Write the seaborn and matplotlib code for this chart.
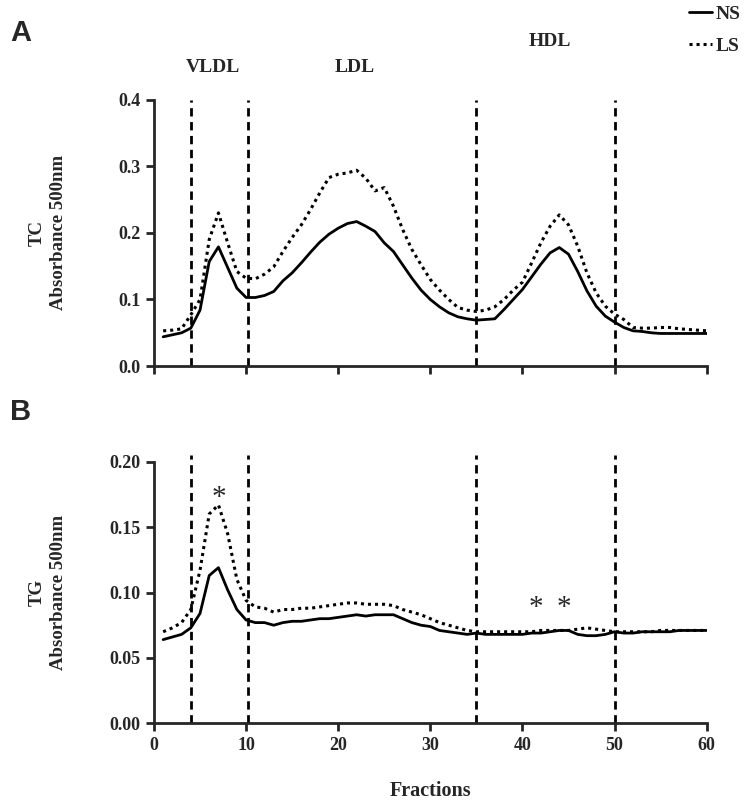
import numpy as np
import pandas as pd
import matplotlib
matplotlib.use('Agg')
import matplotlib.pyplot as plt
import seaborn as sns
from matplotlib.lines import Line2D

fractions = list(range(1, 61))

tc_ns = [0.044, 0.047, 0.050, 0.057, 0.084, 0.157, 0.179, 0.148, 0.117, 0.103,
         0.103, 0.106, 0.112, 0.128, 0.140, 0.155, 0.171, 0.186, 0.198, 0.207,
         0.214, 0.217, 0.210, 0.202, 0.185, 0.172, 0.152, 0.132, 0.114, 0.100,
         0.089, 0.080, 0.074, 0.071, 0.069, 0.070, 0.071, 0.085, 0.100, 0.115,
         0.134, 0.153, 0.170, 0.178, 0.168, 0.142, 0.113, 0.090, 0.075, 0.066,
         0.058, 0.053, 0.052, 0.050, 0.049, 0.049, 0.049, 0.049, 0.049, 0.049]
tc_ls = [0.053, 0.054, 0.056, 0.077, 0.100, 0.190, 0.230, 0.185, 0.142, 0.132,
         0.131, 0.138, 0.149, 0.172, 0.193, 0.212, 0.235, 0.260, 0.283, 0.288,
         0.290, 0.294, 0.282, 0.263, 0.268, 0.240, 0.205, 0.175, 0.152, 0.130,
         0.114, 0.100, 0.088, 0.084, 0.082, 0.084, 0.089, 0.100, 0.114, 0.126,
         0.155, 0.185, 0.210, 0.227, 0.212, 0.180, 0.140, 0.110, 0.090, 0.078,
         0.070, 0.058, 0.057, 0.057, 0.058, 0.058, 0.056, 0.055, 0.054, 0.053]
tg_ns = [0.064, 0.066, 0.068, 0.073, 0.084, 0.113, 0.119, 0.102, 0.087, 0.079,
         0.077, 0.077, 0.075, 0.077, 0.078, 0.078, 0.079, 0.080, 0.080, 0.081,
         0.082, 0.083, 0.082, 0.083, 0.083, 0.083, 0.080, 0.077, 0.075, 0.074,
         0.071, 0.070, 0.069, 0.068, 0.069, 0.068, 0.068, 0.068, 0.068, 0.068,
         0.069, 0.069, 0.070, 0.071, 0.071, 0.068, 0.067, 0.067, 0.068, 0.070,
         0.069, 0.069, 0.070, 0.070, 0.070, 0.070, 0.071, 0.071, 0.071, 0.071]
tg_ls = [0.070, 0.073, 0.077, 0.087, 0.117, 0.160, 0.167, 0.145, 0.110, 0.094,
         0.089, 0.088, 0.085, 0.087, 0.087, 0.088, 0.088, 0.089, 0.090, 0.091,
         0.092, 0.092, 0.091, 0.091, 0.091, 0.090, 0.087, 0.085, 0.083, 0.080,
         0.077, 0.075, 0.073, 0.071, 0.070, 0.070, 0.070, 0.070, 0.070, 0.070,
         0.070, 0.071, 0.071, 0.071, 0.071, 0.072, 0.073, 0.072, 0.071, 0.070,
         0.070, 0.070, 0.070, 0.070, 0.071, 0.071, 0.071, 0.071, 0.071, 0.071]

boundaries = [4, 10.2, 35, 50]
class_labels = ['VLDL', 'LDL', 'HDL']
# (fraction, value) of the significance stars in panel B
star_x = [7, 41.5, 44.5]
star_y = [0.162, 0.078, 0.078]

sns.set_style('ticks')
plt.rcParams['font.family'] = ['Liberation Serif', 'DejaVu Serif']
plt.rcParams['font.weight'] = 'bold'

fig = plt.figure(figsize=(7.51, 8.10), dpi=100)
axA = fig.add_axes([0.205, 0.548, 0.736, 0.329])
axB = fig.add_axes([0.205, 0.107, 0.736, 0.323])

dotted = (0, (1, 1.3))

def draw_panel(ax, ns, ls, ymax, step, fmt, ylabel, line_top):
    sns.lineplot(x=fractions, y=ns, ax=ax, color='black', lw=2.0, linestyle='-')
    sns.lineplot(x=fractions, y=ls, ax=ax, color='black', lw=2.2, linestyle=dotted)
    for b in boundaries:
        ax.axvline(b, ymin=0, ymax=line_top, color='black', lw=2.0,
                   linestyle=(0, (3, 2)), clip_on=False)
    ax.set_xlim(0, 60)
    ax.set_ylim(0, ymax)
    ax.set_xticks(range(0, 61, 10))
    ax.set_yticks(np.arange(0, ymax + step / 2, step))
    ax.yaxis.set_major_formatter(plt.FormatStrFormatter(fmt))
    sns.despine(ax=ax)
    for s in ['left', 'bottom']:
        ax.spines[s].set_linewidth(2)
    ax.tick_params(width=2, length=6, labelsize=13, direction='out')
    for t in ax.get_yticklabels() + ax.get_xticklabels():
        t.set_fontweight('bold')
    ax.set_ylabel(ylabel, fontsize=13.5, fontweight='bold', linespacing=1.3)
    ax.yaxis.set_label_coords(-0.158, 0.5)
    ax.set_xlabel('')

draw_panel(axA, tc_ns, tc_ls, 0.4, 0.1, '%.1f', 'TC\nAbsorbance 500nm', 1.0)
draw_panel(axB, tg_ns, tg_ls, 0.2, 0.05, '%.2f', 'TG\nAbsorbance 500nm', 1.025)
axA.set_xticklabels([])
axB.set_xlabel('Fractions', fontsize=14.5, fontweight='bold', labelpad=20)

for x, y in zip(star_x, star_y):
    axB.text(x, y, '*', ha='center', va='bottom', fontsize=21, fontweight='normal')

# lipoprotein class labels above panel A
fig.text(213 / 751, 1 - 68 / 810, class_labels[0], ha='center', va='center', fontsize=14, fontweight='bold')
fig.text(355 / 751, 1 - 68 / 810, class_labels[1], ha='center', va='center', fontsize=14, fontweight='bold')
fig.text(550 / 751, 1 - 42 / 810, class_labels[2], ha='center', va='center', fontsize=14, fontweight='bold')

# panel letters
fig.text(10 / 751, 1 - 33 / 810, 'A', ha='left', va='center', fontsize=21,
         fontweight='bold', family='Liberation Sans')
fig.text(10 / 751, 1 - 412 / 810, 'B', ha='left', va='center', fontsize=21,
         fontweight='bold', family='Liberation Sans')

handles = [Line2D([], [], color='black', lw=2.0, linestyle='-'),
           Line2D([], [], color='black', lw=2.2, linestyle=dotted)]
fig.legend(handles, ['NS', 'LS'], loc='upper right', bbox_to_anchor=(1.01, 1.015),
           frameon=False, handlelength=1.2, handletextpad=0.2, labelspacing=0.75,
           prop={'family': 'Liberation Serif', 'weight': 'bold', 'size': 14})

fig.savefig('out.png', dpi=100)
